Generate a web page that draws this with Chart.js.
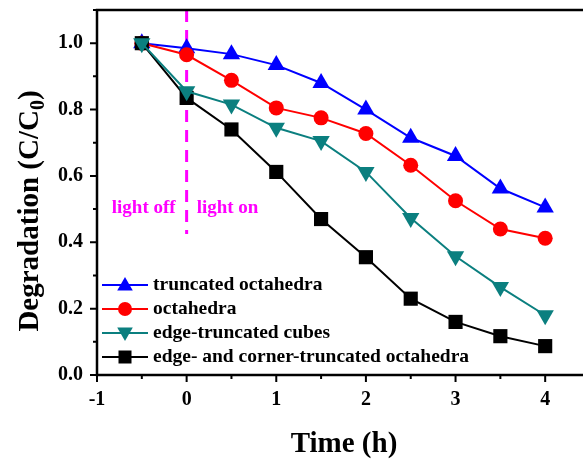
<!DOCTYPE html>
<html>
<head>
<meta charset="utf-8">
<script src="https://cdn.jsdelivr.net/npm/chart.js@4/dist/chart.umd.min.js"></script>
<style>
  html, body { margin: 0; padding: 0; background: #fff; overflow: hidden; }
  #wrap { width: 600px; height: 459px; }
</style>
</head>
<body>
<div id="wrap"><canvas id="degChart" width="600" height="459"></canvas></div>
<script>
// time points (h)
var times = [-0.5, 0, 0.5, 1, 1.5, 2, 2.5, 3, 3.5, 4];

var truncOcta   = [1.0, 0.985, 0.967, 0.934, 0.880, 0.800, 0.715, 0.660, 0.562, 0.505];
var octa        = [1.0, 0.965, 0.888, 0.805, 0.775, 0.728, 0.632, 0.525, 0.440, 0.412];
var edgeCubes   = [1.0, 0.855, 0.815, 0.745, 0.705, 0.612, 0.473, 0.358, 0.265, 0.180];
var edgeCorner  = [1.0, 0.835, 0.740, 0.612, 0.470, 0.355, 0.230, 0.160, 0.117, 0.087];

var xTicks = [-1, 0, 1, 2, 3, 4];
var yTicks = [0, 0.2, 0.4, 0.6, 0.8, 1.0];

var seriesNames = ["truncated octahedra", "octahedra", "edge-truncated cubes", "edge- and corner-truncated octahedra"];
var seriesColors = ["#0000FF", "#FF0000", "#0B7F7F", "#000000"];

var serif = "'Liberation Serif', 'Times New Roman', serif";

function pts(ys) {
  return times.map(function (t, i) { return { x: t, y: ys[i] }; });
}

function marker(ctx, kind, x, y, r, color) {
  ctx.save();
  ctx.fillStyle = color;
  ctx.beginPath();
  if (kind === "up") {
    ctx.moveTo(x, y - r);
    ctx.lineTo(x + r * 0.866, y + r * 0.5);
    ctx.lineTo(x - r * 0.866, y + r * 0.5);
  } else if (kind === "down") {
    ctx.moveTo(x, y + r);
    ctx.lineTo(x + r * 0.866, y - r * 0.5);
    ctx.lineTo(x - r * 0.866, y - r * 0.5);
  } else if (kind === "circle") {
    ctx.arc(x, y, r, 0, Math.PI * 2);
  } else {
    ctx.rect(x - r, y - r, 2 * r, 2 * r);
  }
  ctx.closePath();
  ctx.fill();
  ctx.restore();
}

var decorPlugin = {
  id: "decor",
  beforeDatasetsDraw: function (chart) {
    var ctx = chart.ctx, xs = chart.scales.x, a = chart.chartArea;
    // light on/off dashed line
    var x0 = xs.getPixelForValue(0);
    ctx.save();
    ctx.strokeStyle = "#FF00FF";
    ctx.lineWidth = 3;
    ctx.setLineDash([12, 8]);
    ctx.beginPath();
    ctx.moveTo(x0, a.top);
    ctx.lineTo(x0, 234);
    ctx.stroke();
    ctx.setLineDash([]);
    ctx.fillStyle = "#FF00FF";
    ctx.font = "bold 19px " + serif;
    ctx.textBaseline = "middle";
    ctx.textAlign = "right";
    ctx.fillText("light off", x0 - 11, 208);
    ctx.textAlign = "left";
    ctx.fillText("light on", x0 + 10, 208);
    ctx.restore();
  },
  afterDraw: function (chart) {
    var ctx = chart.ctx, xs = chart.scales.x, ys = chart.scales.y, a = chart.chartArea;
    ctx.save();
    // frame
    ctx.strokeStyle = "#000";
    ctx.lineWidth = 2.5;
    ctx.strokeRect(a.left, a.top, a.right - a.left, a.bottom - a.top);
    // tick marks, outside
    ctx.lineWidth = 2;
    ctx.beginPath();
    for (var v = -1; v <= 4.5; v += 0.5) {
      var px = xs.getPixelForValue(v);
      var len = Number.isInteger(v) ? 7 : 4;
      ctx.moveTo(px, a.bottom);
      ctx.lineTo(px, a.bottom + len);
    }
    for (var k = 0; k <= 11; k++) {
      var py = ys.getPixelForValue(k / 10);
      var l2 = (k % 2 === 0) ? 7 : 4;
      ctx.moveTo(a.left, py);
      ctx.lineTo(a.left - l2, py);
    }
    ctx.stroke();

    // axis titles
    ctx.fillStyle = "#000";
    ctx.textBaseline = "alphabetic";
    ctx.textAlign = "center";
    ctx.font = "bold 29px " + serif;
    ctx.fillText("Time (h)", 344, 452);

    ctx.save();
    ctx.translate(38, 211);
    ctx.rotate(-Math.PI / 2);
    var main = "Degradation (C/C";
    var bigFont = "bold 29px " + serif, smallFont = "bold 20px " + serif;
    ctx.font = bigFont;
    var w1 = ctx.measureText(main).width;
    var w3 = ctx.measureText(")").width;
    ctx.font = smallFont;
    var w2 = ctx.measureText("0").width;
    var start = -(w1 + w2 + w3) / 2;
    ctx.textAlign = "left";
    ctx.font = bigFont;
    ctx.fillText(main, start, 0);
    ctx.font = smallFont;
    ctx.fillText("0", start + w1, 6);
    ctx.font = bigFont;
    ctx.fillText(")", start + w1 + w2, 0);
    ctx.restore();

    // legend
    var kinds = ["up", "circle", "down", "square"];
    var sizes = [9, 7, 9, 6.5];
    var rowY = [285, 309, 333, 357];
    ctx.font = "bold 19.5px " + serif;
    ctx.textAlign = "left";
    ctx.textBaseline = "middle";
    for (var i = 0; i < 4; i++) {
      ctx.strokeStyle = seriesColors[i];
      ctx.lineWidth = 2;
      ctx.beginPath();
      ctx.moveTo(102, rowY[i]);
      ctx.lineTo(148, rowY[i]);
      ctx.stroke();
      marker(ctx, kinds[i], 125, rowY[i] + (kinds[i] === "up" ? 1 : kinds[i] === "down" ? -1 : 0), sizes[i], seriesColors[i]);
      ctx.fillStyle = "#000";
      ctx.fillText(seriesNames[i], 153, rowY[i]);
    }
    ctx.restore();
  }
};

function makeSet(i, ys, style, radius, rot, order) {
  return {
    label: seriesNames[i],
    data: pts(ys),
    borderColor: seriesColors[i],
    backgroundColor: seriesColors[i],
    pointBackgroundColor: seriesColors[i],
    pointBorderColor: seriesColors[i],
    pointBorderWidth: 0,
    borderWidth: 2,
    pointStyle: style,
    pointRadius: radius,
    pointRotation: rot,
    tension: 0,
    fill: false,
    order: order
  };
}

var ctx = document.getElementById("degChart").getContext("2d");
var degChart = new Chart(ctx, {
  type: "line",
  data: {
    datasets: [
      makeSet(0, truncOcta, "triangle", 10, 0, 4),
      makeSet(1, octa, "circle", 7.5, 0, 3),
      makeSet(2, edgeCubes, "triangle", 10, 180, 1),
      makeSet(3, edgeCorner, "rect", 10, 0, 2)
    ]
  },
  options: {
    responsive: false,
    animation: false,
    layout: { padding: { left: 0, top: 9, right: 8, bottom: 0 } },
    plugins: { legend: { display: false }, tooltip: { enabled: false } },
    scales: {
      x: {
        type: "linear",
        min: -1,
        max: 4.5,
        grid: { display: false, drawTicks: false },
        border: { display: false },
        afterBuildTicks: function (s) { s.ticks = xTicks.map(function (v) { return { value: v }; }); },
        afterFit: function (s) { s.height = 84; s.paddingLeft = 0; s.paddingRight = 0; },
        ticks: {
          padding: 13,
          color: "#000",
          font: { family: serif, size: 20, weight: "bold" },
          callback: function (v) { return String(v); }
        }
      },
      y: {
        min: 0,
        max: 1.1,
        grid: { display: false, drawTicks: false },
        border: { display: false },
        afterBuildTicks: function (s) { s.ticks = yTicks.map(function (v) { return { value: v }; }); },
        afterFit: function (s) { s.width = 97; s.paddingTop = 0; s.paddingBottom = 0; },
        ticks: {
          padding: 14,
          color: "#000",
          font: { family: serif, size: 20, weight: "bold" },
          callback: function (v) { return v.toFixed(1); }
        }
      }
    }
  },
  plugins: [decorPlugin]
});
</script>
</body>
</html>
